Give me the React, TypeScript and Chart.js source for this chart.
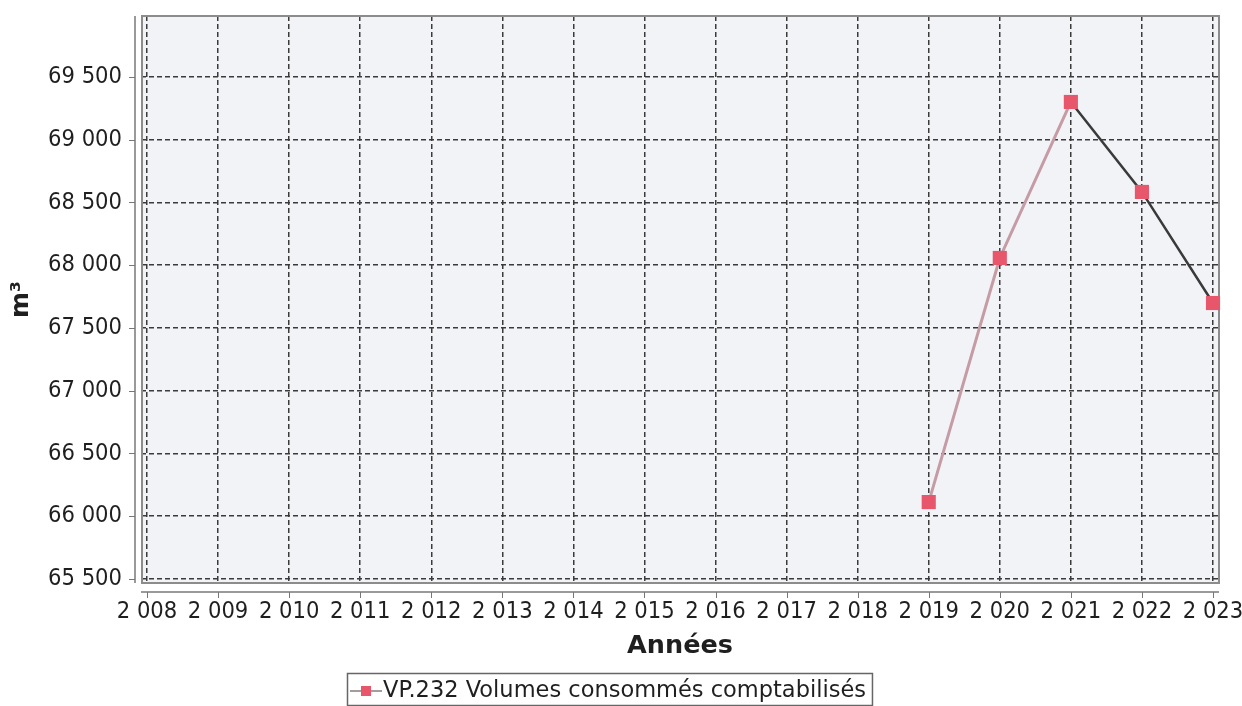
import React, { useEffect, useRef } from 'react';
import { Chart, registerables } from 'chart.js';

Chart.register(...registerables);

// ---- data ----
const years = [2019, 2020, 2021, 2022, 2023];
const volumes = [66113, 68058, 69301, 68584, 67699];
const xTickYears = [2008, 2009, 2010, 2011, 2012, 2013, 2014, 2015, 2016, 2017, 2018, 2019, 2020, 2021, 2022, 2023];
const yTickValues = [65500, 66000, 66500, 67000, 67500, 68000, 68500, 69000, 69500];
const seriesLabel = 'VP.232 Volumes consommés comptabilisés';
const xTitle = 'Années';
const yTitle = 'm³';

const W = 1242;
const H = 706;

function fmt(v: number): string {
  return String(Math.round(v)).replace(/\B(?=(\d{3})+(?!\d))/g, ' ');
}

const TICK_FONT = "'DejaVu Sans Condensed', 'DejaVu Sans', sans-serif";
const MAIN_FONT = "'DejaVu Sans', sans-serif";
const MARKER = '#e8566b';
const LINE_UP = '#c59ca5';
const LINE_DOWN = '#3a3a3a';
const TEXT = '#1f1f1f';

const decorPlugin = {
  id: 'decor',
  beforeDraw(chart: any) {
    const { ctx, chartArea: a } = chart;
    ctx.save();
    ctx.fillStyle = '#f2f3f7';
    ctx.fillRect(a.left, a.top, a.right - a.left, a.bottom - a.top);
    ctx.restore();
  },
  beforeDatasetsDraw(chart: any) {
    const { ctx, chartArea: a } = chart;
    ctx.save();
    ctx.strokeStyle = '#8c8c8c';
    ctx.lineWidth = 2;
    ctx.strokeRect(a.left + 1, a.top, a.right - a.left - 1, a.bottom - a.top);
    ctx.restore();
  },
  afterDraw(chart: any) {
    const { ctx, chartArea: a } = chart;
    const xs = chart.scales.x;
    const ys = chart.scales.y;
    ctx.save();
    // axis lines (offset from plot)
    ctx.strokeStyle = '#9a9a9a';
    ctx.lineWidth = 2;
    const axX = a.left - 6;
    const axY = a.bottom + 9;
    ctx.beginPath();
    ctx.moveTo(axX, a.top);
    ctx.lineTo(axX, a.bottom);
    ctx.moveTo(a.left, axY);
    ctx.lineTo(a.right, axY);
    ctx.stroke();
    // tick marks
    ctx.lineWidth = 1;
    ctx.strokeStyle = '#777';
    ctx.beginPath();
    for (const t of xs.ticks) {
      const px = Math.round(xs.getPixelForValue(t.value)) + 0.5;
      ctx.moveTo(px, axY);
      ctx.lineTo(px, axY + 6);
    }
    for (const t of ys.ticks) {
      const py = Math.round(ys.getPixelForValue(t.value)) + 0.5;
      ctx.moveTo(axX - 6, py);
      ctx.lineTo(axX, py);
    }
    ctx.stroke();

    // legend
    ctx.font = `22.5px ${MAIN_FONT}`;
    const tw = ctx.measureText(seriesLabel).width;
    const bx = 347;
    const by = 673;
    const bh = 32;
    const iconW = 32;
    const bw = 4 + iconW + tw + 6;
    ctx.fillStyle = '#ffffff';
    ctx.fillRect(bx, by, bw, bh);
    ctx.strokeStyle = '#666';
    ctx.lineWidth = 1.5;
    ctx.strokeRect(bx + 0.5, by + 0.5, bw, bh);
    const cy = by + bh / 2 + 2;
    ctx.strokeStyle = '#8a7a7e';
    ctx.lineWidth = 1.5;
    ctx.beginPath();
    ctx.moveTo(bx + 3, cy);
    ctx.lineTo(bx + 3 + iconW, cy);
    ctx.stroke();
    ctx.fillStyle = MARKER;
    ctx.fillRect(bx + 3 + iconW / 2 - 5, cy - 5, 10, 10);
    ctx.fillStyle = TEXT;
    ctx.textBaseline = 'middle';
    ctx.textAlign = 'left';
    ctx.fillText(seriesLabel, bx + 4 + iconW, cy);
    ctx.restore();
  },
};

function zeroPadding(axis: any) {
  axis.paddingLeft = 0;
  axis.paddingRight = 0;
  axis.paddingTop = 0;
  axis.paddingBottom = 0;
}

export default function App() {
  const ref = useRef<HTMLCanvasElement | null>(null);

  useEffect(() => {
    if (!ref.current) return;
    const pxPerYear = 71.07;
    const chart = new Chart(ref.current, {
      type: 'line',
      data: {
        datasets: [
          {
            label: seriesLabel,
            data: years.map((x, i) => ({ x, y: volumes[i] })),
            borderColor: LINE_DOWN,
            borderWidth: 2.5,
            pointStyle: 'rect',
            pointRadius: 10,
            pointBackgroundColor: MARKER,
            pointBorderColor: MARKER,
            pointBorderWidth: 0,
            tension: 0,
            clip: false as any,
            segment: {
              borderColor: (c: any) => (c.p0DataIndex < 2 ? LINE_UP : LINE_DOWN),
              borderWidth: (c: any) => (c.p0DataIndex < 2 ? 3 : 2.5),
            },
          } as any,
        ],
      },
      plugins: [decorPlugin],
      options: {
        animation: false,
        responsive: false,
        devicePixelRatio: 1,
        layout: { padding: { left: 0, top: 16, right: 23, bottom: 0 } },
        plugins: {
          legend: { display: false },
          tooltip: { enabled: false },
        },
        scales: {
          x: {
            type: 'linear',
            min: 2008 - 6 / pxPerYear,
            max: 2023 + 6 / pxPerYear,
            afterBuildTicks: (axis: any) => {
              axis.ticks = xTickYears.map((v) => ({ value: v }));
            },
            afterFit: (axis: any) => {
              axis.height = H - 583;
              zeroPadding(axis);
            },
            ticks: {
              autoSkip: false,
              maxRotation: 0,
              padding: 15,
              color: TEXT,
              font: { family: TICK_FONT, size: 23.5 },
              callback: (v: any) => fmt(Number(v)),
            },
            grid: {
              color: '#3a3a3a',
              lineWidth: 1.5,
              drawTicks: false,
            },
            border: { display: false, dash: [5, 3] },
            title: {
              display: true,
              text: xTitle,
              color: TEXT,
              font: { family: MAIN_FONT, size: 25.5, weight: 'bold' },
              padding: { top: 0, bottom: 44 },
            },
          },
          y: {
            type: 'linear',
            min: 65468,
            max: 69986,
            afterBuildTicks: (axis: any) => {
              axis.ticks = yTickValues.map((v) => ({ value: v }));
            },
            afterFit: (axis: any) => {
              axis.width = 141;
              zeroPadding(axis);
            },
            ticks: {
              padding: 19,
              color: TEXT,
              font: { family: TICK_FONT, size: 23.5 },
              callback: (v: any) => fmt(Number(v)),
            },
            grid: {
              color: '#3a3a3a',
              lineWidth: 1.5,
              drawTicks: false,
            },
            border: { display: false, dash: [5, 3] },
            title: {
              display: true,
              text: yTitle,
              color: TEXT,
              font: { family: MAIN_FONT, size: 25, weight: 'bold' },
              padding: { top: 6, bottom: 0 },
            },
          },
        },
      } as any,
    });
    return () => chart.destroy();
  }, []);

  return (
    <div style={{ position: 'fixed', left: 0, top: 0, width: W, height: H, background: '#fff' }}>
      <canvas ref={ref} width={W} height={H} style={{ display: 'block' }} />
    </div>
  );
}
